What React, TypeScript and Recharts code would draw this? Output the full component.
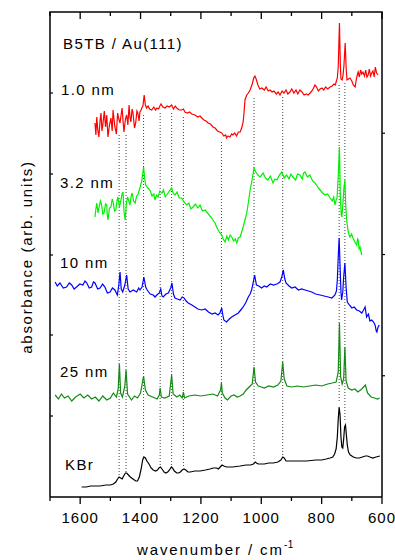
import React from 'react';
import { LineChart, Line, XAxis, YAxis, ReferenceLine } from 'recharts';

// wavenumber (cm-1), absorbance in arbitrary units (offset per trace)
const nm1_0: [number, number][] = [
  [1551, 374], [1548, 362], [1545, 380], [1542, 368], [1538, 360], [1534, 377], [1531, 384], [1528, 366],
  [1525, 372], [1520, 386], [1516, 370], [1512, 382], [1508, 360], [1503, 372], [1498, 379], [1494, 366],
  [1491, 387], [1488, 378], [1485, 370], [1480, 363], [1476, 384], [1472, 378], [1468, 374], [1464, 383],
  [1461, 389], [1458, 376], [1455, 365], [1450, 378], [1446, 382], [1442, 372], [1438, 392], [1435, 380],
  [1432, 375], [1428, 388], [1425, 384], [1420, 369], [1416, 374], [1412, 386], [1409, 384], [1405, 376],
  [1402, 385], [1398, 387], [1396, 389], [1392, 391], [1388, 402], [1384, 392], [1380, 389], [1375, 391],
  [1370, 388], [1363, 387], [1356, 390], [1350, 387], [1346, 389], [1340, 388], [1336, 391], [1332, 393],
  [1326, 390], [1319, 389], [1312, 391], [1305, 390], [1297, 392], [1291, 388], [1285, 391], [1280, 389],
  [1272, 387], [1264, 387], [1258, 388], [1253, 385], [1245, 384], [1238, 385], [1230, 383], [1220, 382],
  [1210, 380], [1203, 381], [1197, 379], [1190, 377], [1183, 376], [1176, 374], [1168, 373], [1160, 370],
  [1153, 369], [1145, 366], [1138, 365], [1131, 364], [1124, 361], [1118, 362], [1115, 359], [1110, 361],
  [1104, 360], [1098, 363], [1094, 362], [1088, 364], [1082, 361], [1076, 365], [1070, 365], [1065, 369],
  [1060, 375], [1057, 385], [1054, 397], [1048, 402], [1043, 404], [1037, 407], [1030, 413], [1025, 419],
  [1021, 421], [1017, 418], [1011, 412], [1005, 408], [998, 409], [990, 407], [984, 410], [977, 406],
  [971, 407], [964, 405], [958, 406], [950, 403], [944, 405], [938, 402], [931, 406], [925, 404],
  [918, 407], [912, 403], [905, 405], [899, 408], [892, 404], [885, 407], [879, 403], [872, 407],
  [865, 405], [858, 402], [851, 403], [845, 402], [838, 404], [830, 407], [822, 412], [817, 410],
  [811, 406], [805, 408], [799, 409], [793, 407], [787, 410], [780, 408], [772, 410], [765, 411],
  [759, 413], [755, 412], [752, 415], [748, 419], [745, 430], [741, 474], [738, 432], [736, 418],
  [732, 417], [729, 422], [726, 432], [722, 454], [719, 430], [716, 417], [711, 418], [706, 419],
  [700, 416], [695, 412], [689, 410], [685, 418], [681, 423], [679, 425], [675, 420], [671, 427],
  [667, 423], [663, 425], [658, 421], [654, 427], [650, 420], [646, 422], [642, 428], [638, 421],
  [634, 424], [630, 426], [626, 420], [622, 430], [618, 424], [613, 422],
];

const nm3_2: [number, number][] = [
  [1551, 280], [1548, 288], [1545, 294], [1541, 284], [1538, 289], [1533, 296], [1529, 292], [1525, 283],
  [1521, 284], [1516, 293], [1512, 292], [1510, 281], [1508, 277], [1503, 289], [1498, 290], [1494, 298],
  [1491, 295], [1486, 286], [1482, 287], [1478, 296], [1475, 300], [1470, 290], [1465, 297], [1461, 303],
  [1458, 305], [1455, 286], [1451, 277], [1447, 293], [1443, 300], [1439, 296], [1435, 292], [1431, 301],
  [1428, 304], [1423, 296], [1418, 294], [1413, 301], [1409, 302], [1405, 306], [1402, 309], [1396, 316],
  [1390, 330], [1386, 318], [1383, 312], [1376, 309], [1369, 307], [1362, 301], [1356, 303], [1352, 297],
  [1347, 302], [1342, 300], [1336, 306], [1329, 304], [1324, 307], [1318, 300], [1313, 302], [1305, 306],
  [1297, 309], [1292, 304], [1286, 302], [1279, 305], [1272, 299], [1264, 299], [1256, 295], [1247, 292],
  [1240, 294], [1233, 288], [1226, 290], [1218, 293], [1210, 289], [1203, 292], [1195, 286], [1186, 287],
  [1178, 284], [1170, 281], [1164, 279], [1158, 276], [1153, 274], [1148, 270], [1143, 267], [1137, 264],
  [1131, 262], [1126, 258], [1120, 255], [1114, 261], [1109, 257], [1103, 262], [1098, 260], [1092, 256],
  [1086, 258], [1081, 254], [1076, 259], [1070, 260], [1060, 270], [1048, 284], [1042, 296], [1037, 307],
  [1030, 318], [1024, 329], [1018, 325], [1011, 322], [1004, 320], [994, 324], [986, 319], [978, 317],
  [970, 321], [961, 314], [955, 318], [948, 317], [940, 322], [932, 325], [924, 319], [916, 322],
  [908, 318], [902, 323], [895, 320], [886, 317], [880, 323], [872, 322], [864, 318], [860, 324],
  [855, 325], [847, 320], [839, 322], [830, 316], [822, 314], [813, 310], [805, 307], [797, 304],
  [789, 302], [780, 303], [772, 299], [765, 296], [760, 300], [756, 292], [752, 297], [749, 299],
  [745, 320], [741, 350], [738, 300], [735, 282], [733, 280], [729, 295], [726, 310], [723, 317],
  [720, 290], [717, 277], [713, 267], [709, 262], [706, 260], [701, 263], [696, 259], [690, 255],
  [684, 252], [681, 258], [679, 257], [676, 248], [673, 250], [670, 246], [667, 242],
];

const nm10: [number, number][] = [
  [1683, 215], [1676, 211], [1667, 214], [1656, 209], [1645, 210], [1636, 214], [1628, 212], [1620, 208],
  [1612, 210], [1601, 213], [1591, 212], [1584, 216], [1578, 214], [1570, 209], [1562, 210], [1556, 215],
  [1551, 214], [1542, 208], [1534, 209], [1526, 213], [1518, 210], [1510, 204], [1501, 205], [1493, 209],
  [1485, 207], [1477, 202], [1472, 212], [1468, 225], [1464, 208], [1459, 205], [1452, 212], [1446, 222],
  [1441, 208], [1435, 205], [1424, 207], [1413, 205], [1406, 209], [1402, 207], [1395, 210], [1389, 220],
  [1383, 210], [1378, 207], [1368, 203], [1358, 202], [1352, 200], [1346, 202], [1338, 204], [1333, 208],
  [1329, 201], [1325, 200], [1316, 203], [1308, 204], [1300, 209], [1296, 214], [1291, 203], [1286, 199],
  [1278, 198], [1269, 197], [1262, 200], [1256, 199], [1249, 196], [1242, 194], [1230, 192], [1220, 190],
  [1210, 188], [1197, 187], [1186, 188], [1175, 185], [1163, 183], [1153, 184], [1143, 182], [1137, 184],
  [1131, 189], [1128, 183], [1124, 177], [1115, 175], [1106, 178], [1098, 180], [1087, 182], [1076, 184],
  [1068, 187], [1060, 190], [1052, 194], [1043, 200], [1037, 203], [1032, 207], [1027, 214], [1022, 222],
  [1016, 212], [1008, 211], [999, 209], [990, 211], [982, 210], [970, 213], [960, 212], [948, 213],
  [938, 215], [932, 220], [927, 227], [922, 218], [918, 214], [908, 211], [899, 209], [888, 210],
  [877, 207], [866, 208], [855, 207], [844, 206], [833, 205], [820, 203], [805, 202], [792, 201],
  [778, 200], [766, 199], [756, 202], [751, 206], [748, 217], [745, 240], [742, 259], [739, 232],
  [736, 205], [734, 197], [730, 205], [727, 220], [723, 234], [719, 210], [715, 195], [708, 192],
  [700, 189], [692, 190], [684, 187], [675, 186], [667, 184], [661, 187], [656, 190], [651, 180],
  [645, 183], [640, 176], [634, 177], [628, 175], [623, 172], [619, 166], [617, 165], [613, 170], [609, 172],
];

const nm25: [number, number][] = [
  [1683, 102], [1672, 98], [1662, 103], [1652, 99], [1640, 101], [1628, 96], [1615, 100], [1600, 103],
  [1588, 99], [1575, 102], [1562, 98], [1550, 100], [1538, 96], [1525, 101], [1512, 97], [1500, 99],
  [1490, 104], [1480, 100], [1474, 108], [1470, 133], [1466, 104], [1460, 100], [1452, 111], [1448, 127],
  [1443, 103], [1430, 97], [1420, 101], [1410, 99], [1400, 104], [1390, 121], [1384, 107], [1375, 102],
  [1360, 100], [1345, 98], [1338, 102], [1335, 109], [1331, 100], [1320, 99], [1305, 101], [1297, 122],
  [1292, 103], [1280, 100], [1270, 102], [1262, 99], [1258, 105], [1254, 99], [1240, 101], [1220, 102],
  [1200, 101], [1180, 102], [1160, 103], [1145, 101], [1135, 107], [1132, 114], [1129, 104], [1120, 99],
  [1112, 97], [1100, 101], [1090, 102], [1080, 100], [1070, 101], [1060, 103], [1050, 107], [1040, 110],
  [1030, 113], [1024, 130], [1019, 115], [1010, 111], [1000, 110], [990, 109], [975, 111], [960, 110],
  [945, 112], [935, 116], [929, 135], [924, 118], [915, 111], [900, 110], [880, 111], [860, 110],
  [840, 111], [820, 112], [800, 111], [780, 113], [765, 114], [752, 115], [745, 125], [741, 174],
  [737, 120], [732, 113], [727, 118], [723, 150], [719, 116], [712, 109], [700, 107], [690, 108],
  [680, 105], [667, 108], [655, 112], [648, 104], [636, 100], [625, 99], [615, 98], [608, 99],
];

const kbr: [number, number][] = [
  [1595, 10], [1580, 10], [1565, 11], [1550, 11], [1534, 11], [1515, 12], [1500, 12], [1490, 13],
  [1482, 15], [1476, 18], [1471, 20], [1466, 19], [1461, 18], [1456, 21], [1450, 24], [1446, 24],
  [1440, 22], [1434, 20], [1425, 18], [1416, 16], [1410, 16], [1404, 20], [1398, 28], [1393, 37],
  [1389, 40], [1384, 39], [1379, 36], [1372, 33], [1365, 29], [1358, 27], [1350, 26], [1344, 27],
  [1339, 29], [1334, 30], [1329, 28], [1322, 25], [1316, 24], [1310, 25], [1304, 27], [1298, 30],
  [1294, 29], [1288, 26], [1280, 24], [1274, 24], [1268, 25], [1262, 27], [1256, 28], [1250, 27],
  [1243, 25], [1235, 25], [1220, 26], [1203, 26], [1185, 27], [1170, 28], [1159, 29], [1148, 29],
  [1142, 28], [1136, 30], [1130, 32], [1124, 31], [1115, 30], [1095, 30], [1070, 31], [1050, 32],
  [1035, 32], [1026, 33], [1020, 35], [1016, 34], [1010, 33], [990, 33], [975, 34], [960, 34],
  [945, 35], [935, 37], [929, 40], [924, 39], [918, 36], [900, 36], [872, 36], [850, 36],
  [820, 37], [800, 37], [785, 38], [772, 39], [763, 40], [757, 43], [752, 48], [748, 60],
  [745, 78], [742, 90], [739, 82], [736, 60], [733, 50], [730, 49], [727, 58], [724, 70],
  [721, 72], [718, 62], [715, 52], [711, 45], [705, 42], [695, 40], [685, 39], [675, 39],
  [665, 40], [655, 41], [648, 41], [640, 40], [630, 39], [620, 40], [607, 41],
];

// marker lines: wavenumber, upper end, lower end
const peakLines: [number, number, number][] = [
  [1471, 362, 21], [1448, 362, 25], [1390, 382, 47], [1335, 384, 32], [1297, 384, 32], [1258, 380, 29],
  [1132, 355, 34], [1024, 399, 37], [929, 400, 42], [742, 412, 95], [723, 414, 75],
];

const xTicks = [1700, 1600, 1500, 1400, 1300, 1200, 1100, 1000, 900, 800, 700, 600];
const leftTicks = [81, 162, 242, 323, 404];
const rightTicks = [1, 2, 3];
const X_DOMAIN: [number, number] = [600, 1700];
const Y_MAX = 485;

const traces = [
  { name: '1.0 nm', data: nm1_0, color: '#ff0000' },
  { name: '3.2 nm', data: nm3_2, color: '#00f000' },
  { name: '10 nm', data: nm10, color: '#0000ff' },
  { name: '25 nm', data: nm25, color: '#138a13' },
  { name: 'KBr', data: kbr, color: '#000000' },
];

const traceLabels = [
  { text: 'B5TB / Au(111)', x: 63, y: 49 },
  { text: '1.0 nm', x: 61, y: 95 },
  { text: '3.2 nm', x: 60, y: 188 },
  { text: '10 nm', x: 60, y: 268 },
  { text: '25 nm', x: 60, y: 377 },
  { text: 'KBr', x: 65, y: 470 },
];

const FONT = '"Liberation Sans", Arial, sans-serif';
const W = 395;
const H = 560;
const M = { top: 12, right: 11, left: 48, bottom: 23 };
// plot box (axis widths added to the margins)
const PL = M.left + 2;
const PR = W - M.right - 2;
const PT = M.top;

const toPts = (arr: [number, number][]) => arr.map(([w, v]) => ({ w, v }));
const topX = (t: number) => PL + ((X_DOMAIN[1] - t) / (X_DOMAIN[1] - X_DOMAIN[0])) * (PR - PL);

const BottomTick = (props: any) => {
  const { x, y, payload } = props;
  const major = payload.value % 200 === 0;
  return (
    <g>
      <line x1={x} x2={x} y1={y} y2={y + (major ? 7 : 4)} stroke="#000" strokeWidth={1.3} />
      {major && (
        <text x={x} y={y + 26} textAnchor="middle" fontSize={15} fontFamily={FONT} letterSpacing={1} fill="#000">
          {payload.value}
        </text>
      )}
    </g>
  );
};

const LeftTick = (props: any) => {
  const { x, y } = props;
  return <line x1={x} x2={x + 3} y1={y} y2={y} stroke="#000" strokeWidth={1.2} />;
};

const RightTick = (props: any) => {
  const { x, y } = props;
  return <line x1={x} x2={x + 3} y1={y} y2={y} stroke="#000" strokeWidth={1.2} />;
};

export default function App() {
  return (
    <div style={{ position: 'absolute', left: 0, top: 0, width: W, height: H, background: '#fff' }}>
      <LineChart width={W} height={H} margin={M}>
        <XAxis
          xAxisId="b"
          dataKey="w"
          type="number"
          domain={X_DOMAIN}
          reversed
          ticks={xTicks}
          interval={0}
          height={40}
          tickSize={0}
          tickMargin={0}
          tickLine={false}
          tick={BottomTick}
          axisLine={{ stroke: '#000', strokeWidth: 1.5 }}
          allowDataOverflow
        />
        <YAxis
          yAxisId="l"
          type="number"
          domain={[0, Y_MAX]}
          ticks={leftTicks}
          interval={0}
          width={2}
          tickSize={0}
          tickMargin={0}
          tickLine={false}
          tick={LeftTick}
          axisLine={{ stroke: '#000', strokeWidth: 1.5 }}
          allowDataOverflow
        />
        <YAxis
          yAxisId="r"
          orientation="right"
          type="number"
          domain={[0, 4]}
          ticks={rightTicks}
          interval={0}
          width={2}
          tickSize={0}
          tickMargin={0}
          tickLine={false}
          tick={RightTick}
          axisLine={{ stroke: '#000', strokeWidth: 1.5 }}
          allowDataOverflow
        />
        {peakLines.map(([w, top, bottom]) => (
          <ReferenceLine
            key={w}
            xAxisId="b"
            yAxisId="l"
            segment={[{ x: w, y: top }, { x: w, y: bottom }]}
            stroke="#444"
            strokeWidth={1}
            strokeDasharray="1 2"
          />
        ))}
        {traces.map((t) => (
          <Line
            key={t.name}
            xAxisId="b"
            yAxisId="l"
            data={toPts(t.data)}
            dataKey="v"
            type="linear"
            stroke={t.color}
            strokeWidth={1.2}
            dot={false}
            isAnimationActive={false}
          />
        ))}
      </LineChart>
      <svg
        width={W}
        height={H}
        style={{ position: 'absolute', left: 0, top: 0, pointerEvents: 'none' }}
        fontFamily={FONT}
      >
        {/* top frame with inward ticks */}
        <line x1={PL - 0.75} x2={PR + 0.75} y1={PT} y2={PT} stroke="#000" strokeWidth={1.5} />
        {xTicks.map((t) => (
          <line
            key={t}
            x1={topX(t)}
            x2={topX(t)}
            y1={PT}
            y2={PT + (t % 200 === 0 ? 7 : 4)}
            stroke="#000"
            strokeWidth={1.3}
          />
        ))}
        {traceLabels.map((l) => (
          <text key={l.text} x={l.x} y={l.y} fontSize={15} letterSpacing={1.4} fill="#000">
            {l.text}
          </text>
        ))}
        <text
          transform="translate(31.5,257) rotate(-90)"
          textAnchor="middle"
          fontSize={15}
          letterSpacing={1.7}
          fill="#000"
        >
          absorbance (arb. units)
        </text>
        <text x={137} y={555} fontSize={15} letterSpacing={1.9} fill="#000">
          wavenumber / cm
          <tspan fontSize={10} dy={-7} letterSpacing={0.5}>-1</tspan>
        </text>
      </svg>
    </div>
  );
}
